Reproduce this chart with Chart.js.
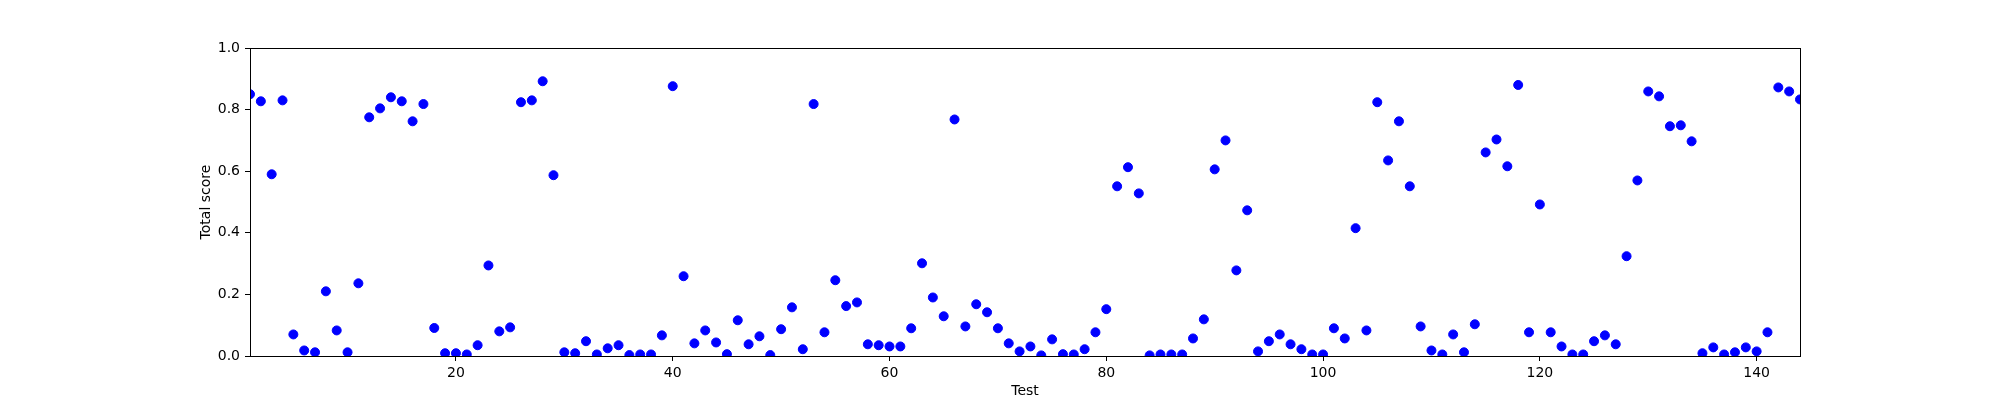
<!DOCTYPE html>
<html>
<head>
<meta charset="utf-8">
<script src="https://cdn.jsdelivr.net/npm/chart.js@4.4.1/dist/chart.umd.min.js"></script>
<style>
  html, body { margin: 0; padding: 0; background: #fff; }
  #wrap { width: 2000px; height: 400px; }
</style>
</head>
<body>
<div id="wrap"><canvas id="c" width="2000" height="400"></canvas></div>
<script>
// ---- data ----
const tests = [
  1, 2, 3, 4, 5, 6, 7, 8, 9, 10,
  11, 12, 13, 14, 15, 16, 17, 18, 19, 20,
  21, 22, 23, 24, 25, 26, 27, 28, 29, 30,
  31, 32, 33, 34, 35, 36, 37, 38, 39, 40,
  41, 42, 43, 44, 45, 46, 47, 48, 49, 50,
  51, 52, 53, 54, 55, 56, 57, 58, 59, 60,
  61, 62, 63, 64, 65, 66, 67, 68, 69, 70,
  71, 72, 73, 74, 75, 76, 77, 78, 79, 80,
  81, 82, 83, 84, 85, 86, 87, 88, 89, 90,
  91, 92, 93, 94, 95, 96, 97, 98, 99, 100,
  101, 102, 103, 104, 105, 106, 107, 108, 109, 110,
  111, 112, 113, 114, 115, 116, 117, 118, 119, 120,
  121, 122, 123, 124, 125, 126, 127, 128, 129, 130,
  131, 132, 133, 134, 135, 136, 137, 138, 139, 140,
  141, 142, 143, 144
];
const totalScore = [
  0.850, 0.827, 0.590, 0.830, 0.070, 0.018, 0.012, 0.210, 0.083, 0.012,
  0.236, 0.775, 0.804, 0.840, 0.827, 0.762, 0.818, 0.091, 0.009, 0.009,
  0.005, 0.035, 0.294, 0.080, 0.093, 0.824, 0.830, 0.892, 0.587, 0.012,
  0.009, 0.048, 0.005, 0.025, 0.035, 0.003, 0.005, 0.005, 0.067, 0.876,
  0.259, 0.041, 0.083, 0.044, 0.006, 0.116, 0.038, 0.064, 0.003, 0.087,
  0.158, 0.022, 0.818, 0.077, 0.246, 0.162, 0.174, 0.038, 0.035, 0.031,
  0.031, 0.090, 0.301, 0.190, 0.129, 0.768, 0.096, 0.168, 0.142, 0.090,
  0.041, 0.015, 0.031, 0.002, 0.054, 0.006, 0.005, 0.022, 0.077, 0.152,
  0.551, 0.613, 0.528, 0.002, 0.005, 0.005, 0.005, 0.057, 0.119, 0.606,
  0.700, 0.278, 0.473, 0.015, 0.048, 0.070, 0.038, 0.022, 0.005, 0.005,
  0.090, 0.057, 0.415, 0.083, 0.824, 0.635, 0.762, 0.551, 0.096, 0.018,
  0.005, 0.070, 0.012, 0.103, 0.661, 0.703, 0.616, 0.880, 0.077, 0.492,
  0.077, 0.031, 0.005, 0.005, 0.048, 0.067, 0.038, 0.324, 0.570, 0.859,
  0.843, 0.746, 0.749, 0.697, 0.009, 0.028, 0.005, 0.012, 0.028, 0.015,
  0.077, 0.872, 0.859, 0.833
];
const xTicks = [20, 40, 60, 80, 100, 120, 140];
const yTicks = [0.0, 0.2, 0.4, 0.6, 0.8, 1.0];
const xLabel = 'Test';
const yLabel = 'Total score';

// ---- chart ----
Chart.defaults.font.family = "'DejaVu Sans', sans-serif";
Chart.defaults.font.size = 14;
Chart.defaults.color = '#000';

const framePlugin = {
  id: 'frame',
  afterDatasetsDraw(chart) {
    const a = chart.chartArea, ctx = chart.ctx;
    ctx.save();
    ctx.strokeStyle = '#000';
    ctx.lineWidth = 1;
    ctx.strokeRect(Math.round(a.left) + 0.5, Math.round(a.top) + 0.5,
                   Math.round(a.right - a.left), Math.round(a.bottom - a.top));
    ctx.restore();
  }
};

new Chart(document.getElementById('c'), {
  type: 'scatter',
  data: {
    datasets: [{
      data: tests.map((t, i) => ({ x: t, y: totalScore[i] })),
      backgroundColor: '#0000ff',
      borderColor: '#0000ff',
      borderWidth: 1,
      pointRadius: 4.5,
      pointHoverRadius: 4.5,
      clip: 0
    }]
  },
  plugins: [framePlugin],
  options: {
    responsive: false,
    devicePixelRatio: 1,
    animation: false,
    layout: { padding: { left: 198, right: 200, top: 48, bottom: 0 } },
    plugins: { legend: { display: false }, tooltip: { enabled: false } },
    scales: {
      x: {
        type: 'linear',
        min: 1,
        max: 144,
        afterBuildTicks: s => { s.ticks = xTicks.map(v => ({ value: v })); },
        afterFit: s => { s.height = 44; },
        ticks: { padding: 4, maxRotation: 0, autoSkip: false, callback: v => String(v) },
        grid: { drawOnChartArea: false, drawTicks: true, tickLength: 5, color: '#000', lineWidth: 1 },
        border: { display: true, color: '#000', width: 1 },
        title: { display: true, text: xLabel, padding: { top: 0, bottom: 0 } }
      },
      y: {
        type: 'linear',
        min: 0,
        max: 1,
        afterBuildTicks: s => { s.ticks = yTicks.map(v => ({ value: v })); },
        afterFit: s => { s.width = 52; },
        ticks: { padding: 5, autoSkip: false, callback: v => Number(v).toFixed(1) },
        grid: { drawOnChartArea: false, drawTicks: true, tickLength: 5, color: '#000', lineWidth: 1 },
        border: { display: true, color: '#000', width: 1 },
        title: { display: true, text: yLabel, padding: { top: 0, bottom: 0 } }
      }
    }
  }
});
</script>
</body>
</html>
